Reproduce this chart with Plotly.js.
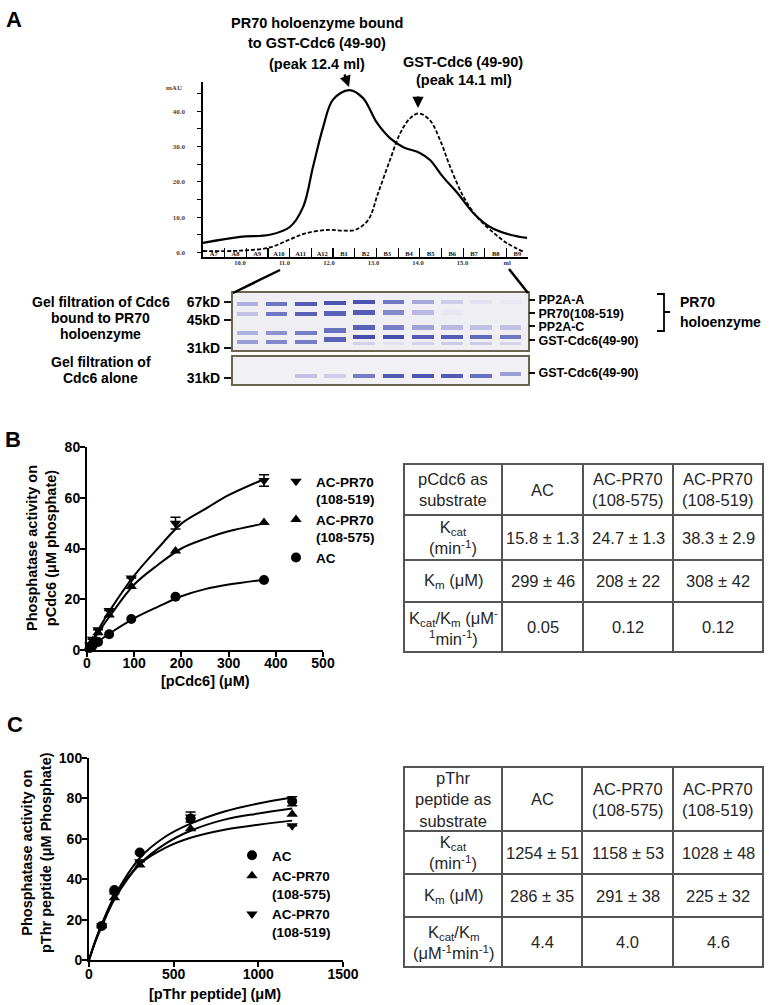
<!DOCTYPE html>
<html><head><meta charset="utf-8">
<script src="https://cdn.plot.ly/plotly-3.0.1.min.js"></script>
<style>html,body{margin:0;padding:0;background:#fff}</style>
</head><body><div id="chart" style="width:769px;height:1005px"></div>
<script>
// ===== Panel A : gel-filtration chromatogram =====
const holoVol = [9.17, 10.0, 10.67, 11.12, 11.42, 11.64, 11.87, 12.09, 12.45, 12.76, 13.08, 13.37, 13.66, 14.04, 14.27, 14.56, 14.88, 15.24, 15.62, 16.07, 16.45];
const holoMAU = [2.7, 4.4, 5.0, 7.2, 12.9, 24.2, 35.6, 43.3, 46.0, 43.8, 36.7, 32.4, 29.9, 28.2, 26.2, 21.4, 16.9, 11.2, 7.2, 5.0, 4.1];
const gstVol = [9.17, 10.0, 10.67, 11.12, 11.47, 11.99, 12.29, 12.59, 12.88, 13.1, 13.37, 13.6, 13.82, 14.02, 14.27, 14.5, 14.72, 15.02, 15.32, 15.62, 16.0, 16.37];
const gstMAU = [0.4, 0.5, 1.4, 3.7, 5.4, 6.4, 6.2, 6.4, 9.2, 16.7, 26.2, 33.8, 38.0, 39.4, 37.4, 31.7, 24.3, 15.8, 10.1, 6.4, 2.6, 0.2];
const volTicks = [10, 11, 12, 13, 14, 15, 16];
const volTickText = ['10.0', '11.0', '12.0', '13.0', '14.0', '15.0', 'ml'];
const fractions = ['A7','A8','A9','A10','A11','A12','B1','B2','B3','B4','B5','B6','B7','B8','B9'];
const fracStart = 9.17, fracWidth = 0.487;

// ===== Panel A : SDS-PAGE gels =====
const lanes = [1,2,3,4,5,6,7,8,9,10];
const gel1Proteins = ['PP2A-A', 'PR70(108-519)', 'PP2A-C', 'GST-Cdc6(49-90)'];
const gel1BandPos = [0.19, 0.37, 0.70, 0.86];
const gel1LabelPos = [0.12, 0.355, 0.585, 0.83];
const gel1ShiftScale = [0.35, 0.3, 1, 1];
const laneShift = [0, 0, 0, -0.045, -0.09, -0.09, -0.09, -0.09, -0.09, -0.09];
const bandPP2AA = [0.35, 0.65, 0.85, 0.9, 0.9, 0.65, 0.4, 0.22, 0.15, 0.12];
const bandPR70  = [0.25, 0.65, 0.8, 0.8, 0.85, 0.55, 0.3, 0.12, 0.06, 0.05];
const bandPP2AC = [0.35, 0.5, 0.6, 0.7, 0.8, 0.6, 0.42, 0.3, 0.25, 0.25];
const bandGST1  = [0.45, 0.55, 0.6, 0.8, 0.95, 0.95, 0.85, 0.85, 0.75, 0.65];
const bandGSTlow = [0, 0, 0, 0, 0.2, 0.15, 0.2, 0.22, 0.22, 0.2];
const gstLowPos = 0.88;
const gel2Protein = ['GST-Cdc6(49-90)'];
const gel2BandPos = 0.70;
const gel2LabelPos = [0.59];
const gel2LaneShift = [0, 0, 0, 0, 0, 0, 0, 0, 0, -0.08];
const bandGST2  = [0, 0, 0.25, 0.22, 0.6, 0.85, 0.9, 0.85, 0.7, 0.45];
const mwLabels1 = ['67kD', '45kD', '31kD'];
const mwPos1 = [0.158, 0.474, 0.965];
const mwLabels2 = ['31kD'];
const mwPos2 = [0.78];

// ===== Panel B : pCdc6 substrate =====
const bConc = [5.9, 11.7, 23.4, 46.9, 93.8, 187.5, 375];
const bAC   = [0.8, 1.7, 3.2, 6.2, 12.2, 21.0, 27.6];
const b575  = [1.5, 3.5, 6.8, 13.8, 25.0, 39.0, 50.2];
const b519  = [2.0, 4.2, 8.0, 15.6, 28.4, 50.0, 66.8];
const b519Err = [0, 0, 0, 0, 0, 2.3, 2.3];
const bFitX   = [0, 25, 50, 100, 150, 200, 250, 300, 375];
const bFitAC  = [0, 3.5, 6.8, 12.5, 17.0, 21.2, 24.0, 25.8, 27.7];
const bFit575 = [0, 7.2, 13.8, 25.8, 33.5, 40.0, 43.8, 46.8, 49.8];
const bFit519 = [0, 8.3, 16.0, 29.3, 40.0, 49.8, 55.5, 61.0, 67.3];

// ===== Panel C : pThr peptide substrate =====
const cConc = [75, 150, 300, 600, 1200];
const cAC   = [16.8, 34.6, 53.2, 70.0, 78.6];
const c575  = [17.0, 30.8, 47.0, 65.0, 72.2];
const c519  = [17.0, 32.8, 48.6, 70.8, 66.4];
const cACErr = [0, 0, 0, 0, 2.2];
const c519Err = [0, 0, 0, 2.5, 0];
const cFitX   = [0, 37.5, 75, 150, 300, 450, 600, 800, 1000, 1200];
const cFitAC  = [0, 9.5, 17.5, 31.5, 50.5, 61.0, 67.5, 73.5, 77.5, 80.5];
const cFit575 = [0, 9.0, 16.5, 30.0, 47.5, 57.5, 64.0, 69.5, 72.5, 75.0];
const cFit519 = [0, 9.5, 17.5, 31.0, 47.5, 55.5, 60.5, 64.5, 67.0, 69.0];

// ===== Tables =====
const seriesNames = ['AC', 'AC-PR70<br>(108-575)', 'AC-PR70<br>(108-519)'];
const tBCorner = 'pCdc6 as<br>substrate';
const tBRows = ['K<sub>cat</sub><br>(min<sup>-1</sup>)', 'K<sub>m</sub> (μM)', 'K<sub>cat</sub>/K<sub>m</sub> (μM<sup>-</sup><br><sup>1</sup>min<sup>-1</sup>)'];
const tBAC  = ['15.8 ± 1.3', '299 ± 46', '0.05'];
const tB575 = ['24.7 ± 1.3', '208 ± 22', '0.12'];
const tB519 = ['38.3 ± 2.9', '308 ± 42', '0.12'];
const tCCorner = 'pThr<br>peptide as<br>substrate';
const tCRows = ['K<sub>cat</sub><br>(min<sup>-1</sup>)', 'K<sub>m</sub> (μM)', 'K<sub>cat</sub>/K<sub>m</sub><br>(μM<sup>-1</sup>min<sup>-1</sup>)'];
const tCAC  = ['1254 ± 51', '286 ± 35', '4.4'];
const tC575 = ['1158 ± 53', '291 ± 38', '4.0'];
const tC519 = ['1028 ± 48', '225 ± 32', '4.6'];

// ---------- layout helpers ----------
const W = 769, H = 1005;
const px = v => v / W;
const py = v => 1 - v / H;
const FONT = 'Liberation Sans, Arial, sans-serif';
const SERIF = 'Liberation Serif, DejaVu Serif, serif';

const traces = [];
const shapes = [];
const annotations = [];

// chromatogram traces
traces.push({type:'scatter', mode:'lines', x: holoVol, y: holoMAU, line:{shape:'spline', color:'#000', width:2.2}, showlegend:false, hoverinfo:'skip', xaxis:'x', yaxis:'y'});
traces.push({type:'scatter', mode:'lines', x: gstVol, y: gstMAU, line:{shape:'spline', color:'#000', width:1.8, dash:'4px,2px'}, showlegend:false, hoverinfo:'skip', xaxis:'x', yaxis:'y'});
const fracCenters = fractions.map((f, i) => fracStart + (i + 0.5) * fracWidth);
const fracEdges = fractions.map((f, i) => fracStart + (i + 1) * fracWidth);
// fraction names sit on the overlay volume axis (same range as x)
traces.push({type:'scatter', mode:'text', x: fracCenters, y: fractions.map(() => -0.5), text: fractions,
  textfont:{family: SERIF, size:6.5, color:'#111', weight:'bold'}, cliponaxis:false, showlegend:false, hoverinfo:'skip', xaxis:'x6', yaxis:'y'});

// gel traces
const BAND1 = 0.08, BAND2 = 0.16;
const gelScale = [[0,'rgba(255,255,255,0)'],[0.25,'rgba(178,178,222,0.75)'],[0.6,'rgba(112,118,196,0.95)'],[1,'rgb(62,70,168)']];
function bandTrace(vals, pos, thick, shifts, shiftScale, xa, ya) {
  return {type:'bar', x: lanes, y: lanes.map(() => thick),
    base: lanes.map((l, i) => pos + shifts[i] * shiftScale - thick / 2),
    width: 0.74, marker:{color: vals, colorscale: gelScale, cmin:0, cmax:1, line:{width:0}},
    showlegend:false, hoverinfo:'skip', xaxis: xa, yaxis: ya};
}
const gel1Bands = [bandPP2AA, bandPR70, bandPP2AC, bandGST1];
gel1Bands.forEach((b, i) => traces.push(bandTrace(b, gel1BandPos[i], BAND1, laneShift, gel1ShiftScale[i], 'x2', 'y2')));
traces.push(bandTrace(bandGSTlow, gstLowPos, 0.05, laneShift, 0, 'x2', 'y3'));
traces.push(bandTrace(bandGST2, gel2BandPos, BAND2, gel2LaneShift, 1, 'x3', 'y4'));
// empty trace so that the right-hand label axis of gel 2 is drawn
traces.push({type:'scatter', mode:'markers', x:[], y:[], showlegend:false, hoverinfo:'skip', xaxis:'x3', yaxis:'y5'});

// Panel B traces
const mk = (sym) => ({symbol: sym, size: 10, color:'#000'});
const fitLine = {shape:'spline', color:'#000', width:2};
traces.push({type:'scatter', mode:'lines', x:bFitX, y:bFit519, line:fitLine, showlegend:false, hoverinfo:'skip', xaxis:'x4', yaxis:'y6'});
traces.push({type:'scatter', mode:'lines', x:bFitX, y:bFit575, line:fitLine, showlegend:false, hoverinfo:'skip', xaxis:'x4', yaxis:'y6'});
traces.push({type:'scatter', mode:'lines', x:bFitX, y:bFitAC, line:fitLine, showlegend:false, hoverinfo:'skip', xaxis:'x4', yaxis:'y6'});
traces.push({type:'scatter', mode:'markers', name:'AC-PR70<br>(108-519)', x:bConc, y:b519, marker:mk('triangle-down'),
  error_y:{type:'data', array:b519Err, visible:true, color:'#000', thickness:1.5, width:5}, cliponaxis:false, legend:'legend', xaxis:'x4', yaxis:'y6'});
traces.push({type:'scatter', mode:'markers', name:'AC-PR70<br>(108-575)', x:bConc, y:b575, marker:mk('triangle-up'), cliponaxis:false, legend:'legend', xaxis:'x4', yaxis:'y6'});
traces.push({type:'scatter', mode:'markers', name:'AC', x:bConc, y:bAC, marker:mk('circle'), cliponaxis:false, legend:'legend', xaxis:'x4', yaxis:'y6'});

// Panel C traces
traces.push({type:'scatter', mode:'lines', x:cFitX, y:cFitAC, line:fitLine, showlegend:false, hoverinfo:'skip', xaxis:'x5', yaxis:'y7'});
traces.push({type:'scatter', mode:'lines', x:cFitX, y:cFit575, line:fitLine, showlegend:false, hoverinfo:'skip', xaxis:'x5', yaxis:'y7'});
traces.push({type:'scatter', mode:'lines', x:cFitX, y:cFit519, line:fitLine, showlegend:false, hoverinfo:'skip', xaxis:'x5', yaxis:'y7'});
traces.push({type:'scatter', mode:'markers', name:'AC', x:cConc, y:cAC, marker:mk('circle'),
  error_y:{type:'data', array:cACErr, visible:true, color:'#000', thickness:1.5, width:5}, cliponaxis:false, legend:'legend2', xaxis:'x5', yaxis:'y7'});
traces.push({type:'scatter', mode:'markers', name:'AC-PR70<br>(108-575)', x:cConc, y:c575, marker:mk('triangle-up'), cliponaxis:false, legend:'legend2', xaxis:'x5', yaxis:'y7'});
traces.push({type:'scatter', mode:'markers', name:'AC-PR70<br>(108-519)', x:cConc, y:c519, marker:mk('triangle-down'),
  error_y:{type:'data', array:c519Err, visible:true, color:'#000', thickness:1.5, width:5}, cliponaxis:false, legend:'legend2', xaxis:'x5', yaxis:'y7'});

// ---------- annotations ----------
function ann(text, x, y, size, opts) {
  annotations.push(Object.assign({text, x: px(x), y: py(y), xref:'paper', yref:'paper', showarrow:false,
    font:{family: FONT, size: size, color:'#000', weight:'bold'}, xanchor:'center', yanchor:'middle'}, opts || {}));
}
ann('A', 14, 19, 22);
ann('B', 13, 439, 22);
ann('C', 15, 724, 22);
ann('PR70 holoenzyme bound', 317, 23, 14.5);
ann('to GST-Cdc6 (49-90)', 317, 43, 14.5);
ann('(peak 12.4 ml)', 317, 64, 14.5);
ann('GST-Cdc6 (49-90)', 463, 62, 14.5);
ann('(peak 14.1 ml)', 464, 80, 14.5);
// arrows to the peaks
annotations.push({text:'', xref:'paper', yref:'paper', x:px(349), y:py(87), ax:-5, ay:-14, showarrow:true, arrowhead:2, arrowsize:0.9, arrowwidth:2.5, arrowcolor:'#000'});
annotations.push({text:'', xref:'paper', yref:'paper', x:px(418), y:py(108), ax:0, ay:-13, showarrow:true, arrowhead:2, arrowsize:0.9, arrowwidth:2.5, arrowcolor:'#000'});
ann('mAU', 174, 88, 7, {font:{family:SERIF, size:7, color:'#444', weight:'bold'}});
// gel labels
ann('Gel filtration of Cdc6', 101, 302, 14);
ann('bound to PR70', 101, 318, 14);
ann('holoenzyme', 101, 334, 14);
ann('Gel filtration of', 101, 362, 14);
ann('Cdc6 alone', 101, 378, 14);
ann('PR70', 678, 302, 14, {xanchor:'left'});
ann('holoenzyme', 678, 322, 14, {xanchor:'left'});
// axis titles B, C
ann('[pCdc6] (μM)', 205, 681, 14.5);
ann('Phosphatase activity on<br>pCdc6 (μM phosphate)', 41, 548, 14.5, {textangle:-90});
ann('[pThr peptide] (μM)', 215, 994, 14.5);
ann('Phosphatase activity on<br>pThr peptide (μM Phosphate)', 36, 853, 14.5, {textangle:-90});

// ---------- shapes ----------
shapes.push({type:'rect', xref:'x2 domain', yref:'y2 domain', x0:0, x1:1, y0:0, y1:1, fillcolor:'#efeef3', line:{width:0}, layer:'below'});
shapes.push({type:'rect', xref:'x3 domain', yref:'y4 domain', x0:0, x1:1, y0:0, y1:1, fillcolor:'#f1f0f4', line:{width:0}, layer:'below'});
shapes.push({type:'line', xref:'paper', yref:'paper', x0:px(280), y0:py(270), x1:px(233), y1:py(293), line:{color:'#000', width:2.5}});
shapes.push({type:'line', xref:'paper', yref:'paper', x0:px(509), y0:py(269), x1:px(528), y1:py(293), line:{color:'#000', width:2.5}});
const P = (x, y) => px(x) + ',' + py(y);
shapes.push({type:'path', xref:'paper', yref:'paper', path:'M' + P(657,294) + ' L' + P(664,294) + ' L' + P(664,331) + ' L' + P(657,331) + ' M' + P(664,312) + ' L' + P(670,312), line:{color:'#000', width:1.8}});

// ---------- tables ----------
function drawTable(colEdges, rowEdges, corner, rowLabels, colVals) {
  const L = colEdges[0], R = colEdges[colEdges.length - 1], T = rowEdges[0], B = rowEdges[rowEdges.length - 1];
  const lc = {color:'#555', width:2};
  shapes.push({type:'rect', xref:'paper', yref:'paper', x0:px(L), x1:px(R), y0:py(B), y1:py(T), line:lc});
  colEdges.slice(1, -1).forEach(c => shapes.push({type:'line', xref:'paper', yref:'paper', x0:px(c), x1:px(c), y0:py(B), y1:py(T), line:lc}));
  rowEdges.slice(1, -1).forEach(r => shapes.push({type:'line', xref:'paper', yref:'paper', x0:px(L), x1:px(R), y0:py(r), y1:py(r), line:lc}));
  const cx = i => (colEdges[i] + colEdges[i + 1]) / 2;
  const cy = j => (rowEdges[j] + rowEdges[j + 1]) / 2;
  const tf = {family: FONT, size: 16.5, color:'#262626'};
  const put = (t, i, j) => annotations.push({text:t, xref:'paper', yref:'paper', x:px(cx(i)), y:py(cy(j)), showarrow:false, font:tf, xanchor:'center', yanchor:'middle'});
  put(corner, 0, 0);
  seriesNames.forEach((s, i) => put(s, i + 1, 0));
  rowLabels.forEach((r, j) => put(r, 0, j + 1));
  colVals.forEach((col, i) => col.forEach((v, j) => put(v, i + 1, j + 1)));
}
drawTable([404, 502, 583, 673, 763], [464, 515, 560, 602, 652], tBCorner, tBRows, [tBAC, tB575, tB519]);
drawTable([404, 502, 582, 673, 763], [767, 831, 874, 917, 967], tCCorner, tCRows, [tCAC, tC575, tC519]);

// ---------- axes ----------
const blackAx = {showgrid:false, zeroline:false, showline:true, linecolor:'#000', linewidth:2, ticks:'outside', ticklen:5, tickwidth:2, tickcolor:'#000',
  tickfont:{family:FONT, size:14, color:'#000', weight:'bold'}, fixedrange:true};
const gelX = {showgrid:false, zeroline:false, showline:true, mirror:true, linecolor:'#6b644f', linewidth:2, ticks:'', showticklabels:false, range:[0.51, 10.6], fixedrange:true};
const gelY = {showgrid:false, zeroline:false, showline:true, mirror:true, linecolor:'#6b644f', linewidth:2, ticks:'outside', ticklen:7, tickwidth:2, tickcolor:'#111',
  tickfont:{family:FONT, size:14, color:'#000', weight:'bold'}, range:[1, 0], tickmode:'array', fixedrange:true, ticklabelstandoff:1};
const gelYR = {showgrid:false, zeroline:false, showline:false, ticks:'outside', ticklen:6, tickwidth:2, tickcolor:'#111', side:'right',
  tickfont:{family:FONT, size:12.5, color:'#000', weight:'bold'}, range:[1, 0], tickmode:'array', fixedrange:true, ticklabelstandoff:1};

const layout = {
  width: W, height: H, margin:{l:0, r:0, t:0, b:0}, paper_bgcolor:'#fff', plot_bgcolor:'rgba(0,0,0,0)',
  font:{family: FONT, color:'#000'}, barmode:'overlay', bargap:0, hovermode:false,
  xaxis: {domain:[px(203), px(528)], range:[9.17, 16.47], anchor:'y', showgrid:false, zeroline:false, showline:true, linecolor:'#000', linewidth:1.5,
    tickmode:'array', tickvals: fracEdges, ticks:'inside', ticklen:9, tickwidth:1.2, tickcolor:'#000', showticklabels:false, fixedrange:true},
  xaxis6: {overlaying:'x', anchor:'y', side:'bottom', range:[9.17, 16.47], showgrid:false, zeroline:false, showline:false, ticks:'',
    tickmode:'array', tickvals: volTicks, ticktext: volTickText, tickfont:{family:SERIF, size:6.5, color:'#333', weight:'bold'}, ticklabelstandoff:0, fixedrange:true},
  yaxis: {domain:[py(257), py(82)], range:[-1.3, 48.3], anchor:'x', showgrid:false, zeroline:false, showline:true, linecolor:'#000', linewidth:2.5,
    tickmode:'linear', tick0:0, dtick:10, tickformat:'.1f', ticks:'outside', ticklen:4, tickwidth:1, tickcolor:'#000',
    minor:{dtick:5, ticks:'outside', ticklen:4, tickwidth:1, tickcolor:'#000', showgrid:false},
    tickfont:{family:SERIF, size:7, color:'#444', weight:'bold'}, ticklabelstandoff:10, fixedrange:true},
  xaxis2: Object.assign({}, gelX, {domain:[px(233), px(528)], anchor:'y2'}),
  yaxis2: Object.assign({}, gelY, {domain:[py(350), py(293)], anchor:'x2', tickvals: mwPos1, ticktext: mwLabels1}),
  yaxis3: Object.assign({}, gelYR, {overlaying:'y2', anchor:'x2', tickvals: gel1LabelPos, ticktext: gel1Proteins}),
  xaxis3: Object.assign({}, gelX, {domain:[px(233), px(528)], anchor:'y4'}),
  yaxis4: Object.assign({}, gelY, {domain:[py(384), py(357)], anchor:'x3', tickvals: mwPos2, ticktext: mwLabels2}),
  yaxis5: Object.assign({}, gelYR, {overlaying:'y4', anchor:'x3', tickvals: gel2LabelPos, ticktext: gel2Protein}),
  xaxis4: Object.assign({}, blackAx, {domain:[px(87), px(323)], range:[0, 500], anchor:'y6', tickmode:'linear', tick0:0, dtick:100, ticklabelstandoff:-6}),
  yaxis6: Object.assign({}, blackAx, {domain:[py(650), py(447)], range:[0, 80], anchor:'x4', tickmode:'linear', tick0:0, dtick:20, ticklabelstandoff:-3}),
  xaxis5: Object.assign({}, blackAx, {domain:[px(89), px(343)], range:[0, 1500], anchor:'y7', tickmode:'linear', tick0:0, dtick:500, ticklabelstandoff:-5}),
  yaxis7: Object.assign({}, blackAx, {domain:[py(960), py(758)], range:[0, 100], anchor:'x5', tickmode:'linear', tick0:0, dtick:20, ticklabelstandoff:-3}),
  legend: {x: px(276), y: py(466), xanchor:'left', yanchor:'top', bgcolor:'rgba(0,0,0,0)', borderwidth:0, valign:'top', tracegroupgap:0,
    font:{family:FONT, size:13.5, color:'#000', weight:'bold'}, traceorder:'normal'},
  legend2: {x: px(232), y: py(840), xanchor:'left', yanchor:'top', bgcolor:'rgba(0,0,0,0)', borderwidth:0, valign:'top', tracegroupgap:0,
    font:{family:FONT, size:13.5, color:'#000', weight:'bold'}, traceorder:'normal'},
  shapes, annotations
};

Plotly.newPlot('chart', traces, layout, {staticPlot:true, displayModeBar:false});
</script></body></html>
